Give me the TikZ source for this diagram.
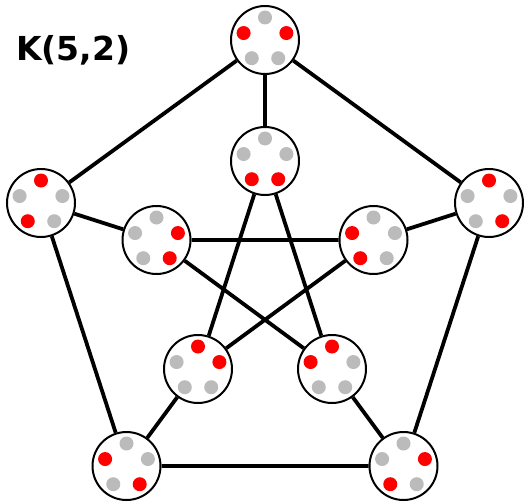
\documentclass[tikz,border=0pt]{standalone}
\usepackage{fontspec}
\setmainfont{DejaVu Sans}
\definecolor{dotgray}{RGB}{187,187,187}
\definecolor{dotred}{RGB}{255,0,0}
\pgfdeclarelayer{bg}
\pgfsetlayers{bg,main}
\tikzset{
  vtx/.style={circle, draw=black, line width=2pt, fill=white, minimum size=68pt, inner sep=0pt},
  edge/.style={line width=3.8pt, black},
  G/.style={fill=dotgray},
  R/.style={fill=dotred},
}
\newcommand\knode[7]{%
  \node[vtx] (#1) at (#2) {};
  \foreach \a/\c in {90/#3,162/#4,234/#5,306/#6,18/#7}
    \path[\c] ([shift={(\a:22.5pt)}]#1.center) circle[radius=7pt];
}
\begin{document}
\begin{tikzpicture}[x=1pt,y=-1pt]
\useasboundingbox (0,0) rectangle (524,503);
\node[anchor=base west, inner sep=0pt, font=\bfseries\fontsize{33}{38}\selectfont] (title) at (16,60) {K(5,2)};
% outer pentagon
\knode{o0}{265,40}{G}{R}{G}{G}{R}
\knode{o1}{41,203}{R}{G}{R}{G}{G}
\knode{o2}{126.5,466}{G}{R}{G}{R}{G}
\knode{o3}{403.5,466}{G}{G}{R}{G}{R}
\knode{o4}{489,203}{R}{G}{G}{R}{G}
% inner star
\knode{i0}{265,161}{G}{G}{R}{R}{G}
\knode{i1}{156.5,240}{G}{G}{G}{R}{R}
\knode{i2}{198,369}{R}{G}{G}{G}{R}
\knode{i3}{332,369}{R}{R}{G}{G}{G}
\knode{i4}{373.5,240}{G}{R}{R}{G}{G}
\begin{pgfonlayer}{bg}
\draw[edge] (o0) -- (o1) (o1) -- (o2) (o2) -- (o3) (o3) -- (o4) (o4) -- (o0);
\draw[edge] (o0) -- (i0) (o1) -- (i1) (o2) -- (i2) (o3) -- (i3) (o4) -- (i4);
\draw[edge] (i0) -- (i2) (i2) -- (i4) (i4) -- (i1) (i1) -- (i3) (i3) -- (i0);
\end{pgfonlayer}
\end{tikzpicture}
\end{document}
